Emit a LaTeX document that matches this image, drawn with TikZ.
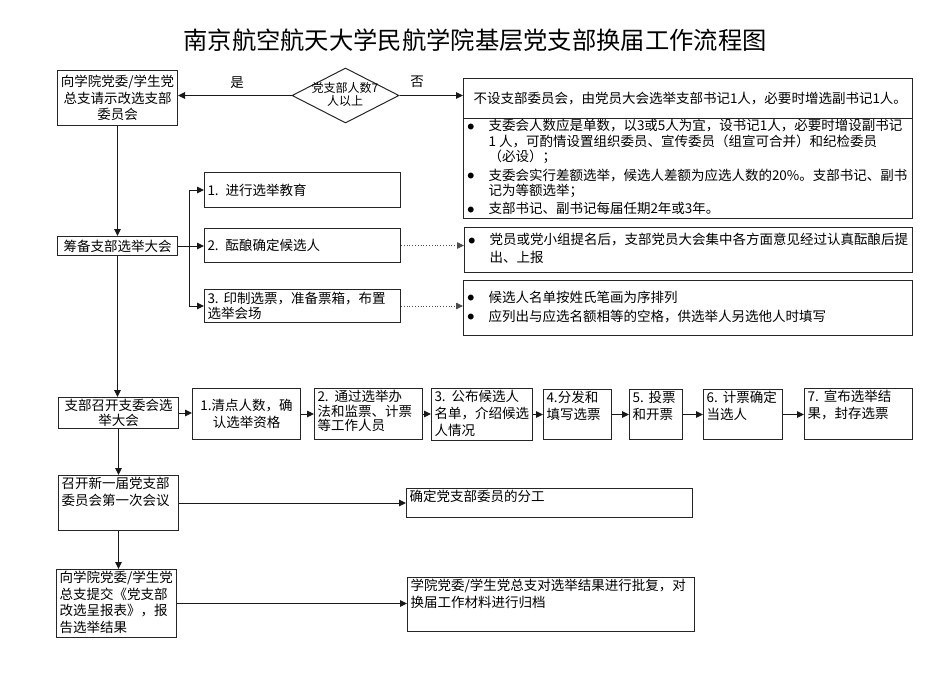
\documentclass[tikz,border=0pt]{standalone}
\usepackage{fontspec}
\setmainfont{Noto Sans CJK SC}
\usetikzlibrary{arrows.meta,shapes.geometric,calc}
\newcommand{\tb}[4]{\parbox[c][\dimexpr#2pt-4pt\relax][#3]{\dimexpr#1pt-6pt\relax}{#4}}
\newcommand{\fs}[2]{\fontsize{#1}{#2}\selectfont}
\newcommand{\bul}{\hspace{1pt}\raisebox{1.5pt}{\fs{6.5}{6.5}●}}
\tikzset{
  bx/.style={draw=black!85, line width=1pt, inner xsep=3pt, inner ysep=2pt, anchor=north west, font=\fs{13.5}{16.5}},
  arr/.style={draw=black!90, line width=1pt, -{Triangle[length=7pt,width=6.5pt]}},
  dotarr/.style={draw=black!70, line width=0.8pt, dotted, -{Triangle[length=7pt,width=6.5pt]}},
  lbl/.style={font=\fs{13.5}{16}, inner sep=0pt}
}
\begin{document}
\begin{tikzpicture}[x=1pt,y=-1pt]
\useasboundingbox (0,0) rectangle (950,672);
\fill[white] (0,0) rectangle (950,672);
\node[font=\fs{24.3}{26}, inner sep=0pt] (title) at (475,40) {南京航空航天大学民航学院基层党支部换届工作流程图};

% top row
\node[bx] (A) at (57,70) {\tb{120}{55}{c}{\centering 向学院党委/学生党\\总支请示改选支部\\委员会}};
\node[draw=black!85, line width=1pt, shape=diamond, minimum width=107pt, minimum height=55pt, inner sep=0pt] (dm) at (345.5,95.5) {};
\node[font=\fs{12}{13}, align=center, inner sep=0pt] (dmt) at (345,94) {党支部人数7\\人以上};
\node[lbl] (yes) at (237,83) {是};
\node[lbl] (no) at (417,82) {否};
\node[bx] (B) at (463,78) {\tb{449}{40}{c}{\hspace{7pt}不设支部委员会，由党员大会选举支部书记1人，必要时增选副书记1人。}};
\node[bx] (C) at (463,118) {\tb{449}{100}{c}{\fs{13.5}{13}\begin{tabular}{@{}p{22pt}@{}l@{}}
\bul & 支委会人数应是单数，以3或5人为宜，设书记1人，必要时增设副书记\\
 & 1 人，可酌情设置组织委员、宣传委员（组宣可合并）和纪检委员\\
 & （必设）；\\[3pt]
\bul & 支委会实行差额选举，候选人差额为应选人数的20\%。支部书记、副书\\
 & 记为等额选举；\\[3pt]
\bul & 支部书记、副书记每届任期2年或3年。
\end{tabular}}};

% preparation
\node[bx] (chou) at (57,236) {\tb{120}{19}{c}{\centering 筹备支部选举大会}};
\node[bx] (b1) at (204,172) {\tb{196}{35}{c}{1.\hspace{7pt}进行选举教育}};
\node[bx] (b2) at (204,228) {\tb{196}{34}{c}{2.\hspace{7pt}酝酿确定候选人}};
\node[bx] (b3) at (204,289) {\tb{196}{33}{c}{\fs{13.5}{15}3.\hspace{5pt}印制选票，准备票箱，布置\\选举会场}};
\node[bx] (D) at (464,227) {\tb{448}{45}{c}{\fs{13.5}{13}\begin{tabular}{@{}p{22pt}@{}l@{}}
\bul & 党员或党小组提名后，支部党员大会集中各方面意见经过认真酝酿后提\\[3pt]
 & 出、上报
\end{tabular}}};
\node[bx] (E) at (463,280) {\tb{449}{55}{c}{\fs{13.5}{13}\begin{tabular}{@{}p{22pt}@{}l@{}}
\bul & 候选人名单按姓氏笔画为序排列\\[4pt]
\bul & 应列出与应选名额相等的空格，供选举人另选他人时填写
\end{tabular}}};
\coordinate (br) at ($(chou.east)+(11,0)$);

% election row
\node[bx] (zb) at (58,397) {\tb{120}{31}{c}{\fs{13.5}{15}\centering 支部召开支委会选\\举大会}};
\node[bx] (r1) at (192,388) {\tb{108}{51}{c}{\centering 1.清点人数，确\\认选举资格}};
\node[bx] (r2) at (314,388) {\tb{108}{51}{t}{\fs{13.5}{14.5}2.\hspace{6pt}通过选举办\\法和监票、计票\\等工作人员}};
\node[bx] (r3) at (431,388) {\tb{101}{52}{t}{\fs{13.5}{17}3.\hspace{6pt}公布候选人\\名单，介绍候选\\人情况}};
\node[bx] (r4) at (543,389) {\tb{68}{50}{t}{\fs{13.5}{17}4.分发和\\填写选票}};
\node[bx] (r5) at (629,389) {\tb{53}{50}{t}{\fs{13.5}{17}5.\hspace{5pt}投票\\和开票}};
\node[bx] (r6) at (703,389) {\tb{79}{50}{t}{\fs{13.5}{17}6.\hspace{5pt}计票确定\\当选人}};
\node[bx] (r7) at (804,388) {\tb{108}{51}{t}{\fs{13.5}{17}7.\hspace{5pt}宣布选举结\\果，封存选票}};

% bottom rows
\node[bx] (zk) at (58,475) {\tb{120}{55}{t}{召开新一届党支部\\委员会第一次会议}};
\node[bx] (fg) at (406,488) {\tb{286}{29}{t}{确定党支部委员的分工}};
\node[bx] (tj) at (56,569) {\tb{120}{68}{t}{向学院党委/学生党\\总支提交《党支部\\改选呈报表》，报\\告选举结果}};
\node[bx] (pf) at (407,577) {\tb{287}{54}{t}{学院党委/学生党总支对选举结果进行批复，对\\换届工作材料进行归档}};

% connectors
\draw[arr] (dm.west) -- (dm.west -| A.east);
\draw[arr] (dm.east) -- (dm.east -| B.west);
\draw[arr] (A.south) -- (chou.north);
\draw[arr] (chou.east) -- (chou.east -| b2.west);
\draw[arr] (br) |- (b1.west);
\draw[arr] (br) |- (b3.west);
\draw[dotarr] (b2.east) -- (b2.east -| D.west);
\draw[dotarr] (b3.east) -- (b3.east -| E.west);
\draw[arr] (chou.south) -- (chou.south |- zb.north);
\draw[arr] (zb.east) -- (zb.east -| r1.west);
\draw[arr] (r1.east) -- (r1.east -| r2.west);
\draw[arr] (r2.east) -- (r2.east -| r3.west);
\draw[arr] (r3.east) -- (r3.east -| r4.west);
\draw[arr] (r4.east) -- (r4.east -| r5.west);
\draw[arr] (r5.east) -- (r5.east -| r6.west);
\draw[arr] (r6.east) -- (r6.east -| r7.west);
\draw[arr] (zb.south) -- (zb.south |- zk.north);
\draw[arr] (zk.east) -- (zk.east -| fg.west);
\draw[arr] (zk.south) -- (zk.south |- tj.north);
\draw[arr] (tj.east) -- (tj.east -| pf.west);
\end{tikzpicture}
\end{document}
